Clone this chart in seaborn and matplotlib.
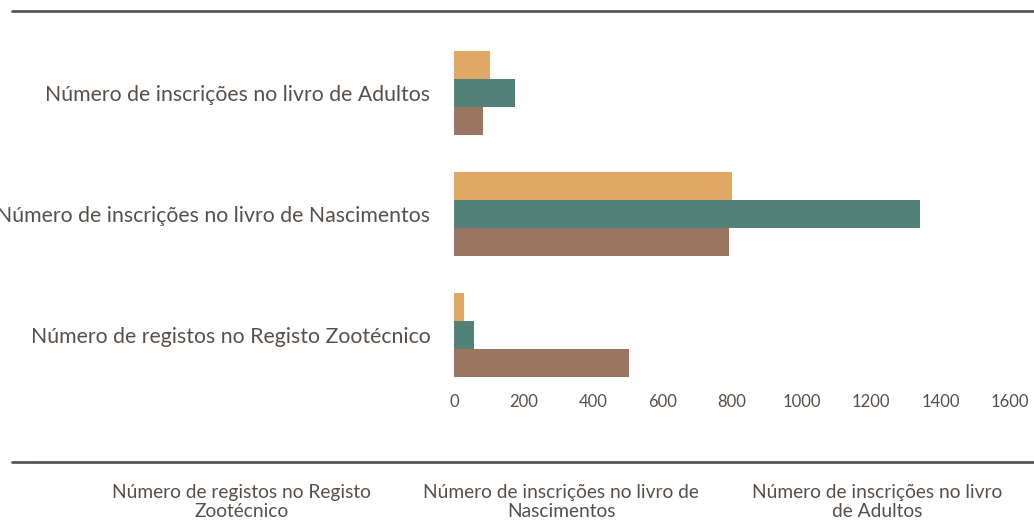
import matplotlib
matplotlib.use("Agg")
import matplotlib.pyplot as plt
from matplotlib.lines import Line2D
import seaborn as sns
import pandas as pd

# ---- data ----
categories = [
    "Número de inscrições no livro de Adultos",
    "Número de inscrições no livro de Nascimentos",
    "Número de registos no Registo Zootécnico",
]
series_names = [
    "Número de registos no Registo\nZootécnico",
    "Número de inscrições no livro de\nNascimentos",
    "Número de inscrições no livro\nde Adultos",
]
values_orange = [104, 800, 29]
values_teal = [176, 1341, 58]
values_brown = [83, 791, 504]
x_ticks = [0, 200, 400, 600, 800, 1000, 1200, 1400, 1600]
colors = ["#E0A865", "#528277", "#9A7662"]

rows = []
for name, vals in zip(series_names, [values_orange, values_teal, values_brown]):
    for cat, v in zip(categories, vals):
        rows.append({"categoria": cat, "valor": v, "serie": name})
df = pd.DataFrame(rows)

sns.set_theme(style="white")
plt.rcParams["font.family"] = ["Lato", "DejaVu Sans"]
text_color = "#55504c"

fig = plt.figure(figsize=(10.34, 5.28), dpi=100)
ax = fig.add_axes([454 / 1034, 1 - 395.5 / 528, (1010 - 454) / 1034, (395.5 - 32.5) / 528])

sns.barplot(data=df, y="categoria", x="valor", hue="serie", order=categories,
            hue_order=series_names, palette=colors, orient="h", width=0.69,
            gap=0, saturation=1, linewidth=0, edgecolor="none", ax=ax, legend=False)

ax.set_xlim(0, 1600)
ax.set_xticks(x_ticks)
ax.set_xticklabels([str(t) for t in x_ticks])
ax.set_xlabel("")
ax.set_ylabel("")
for s in ax.spines.values():
    s.set_visible(False)
ax.tick_params(axis="x", length=0, pad=-1, labelsize=12, labelcolor=text_color)
ax.tick_params(axis="y", length=0, pad=17, labelsize=15.3, labelcolor=text_color)
ax.grid(False)

# legend without markers
handles = [Line2D([], [], linestyle="none", marker=None) for _ in series_names]
leg = fig.legend(handles, series_names, loc="center", bbox_to_anchor=(557 / 1034, 1 - 502 / 528),
                 ncol=3, frameon=False, handlelength=0, handletextpad=0,
                 columnspacing=2.75, fontsize=13.8, labelcolor=text_color)
for t in leg.get_texts():
    t.set_multialignment("center")
    t.set_linespacing(1.08)

# decorative rules
line_color = "#5b5653"
fig.add_artist(Line2D([12 / 1034, 1], [1 - 11 / 528] * 2, transform=fig.transFigure,
                      color=line_color, lw=2))
fig.add_artist(Line2D([12 / 1034, 1], [1 - 462 / 528] * 2, transform=fig.transFigure,
                      color=line_color, lw=2))

fig.savefig("out.png", dpi=100)
